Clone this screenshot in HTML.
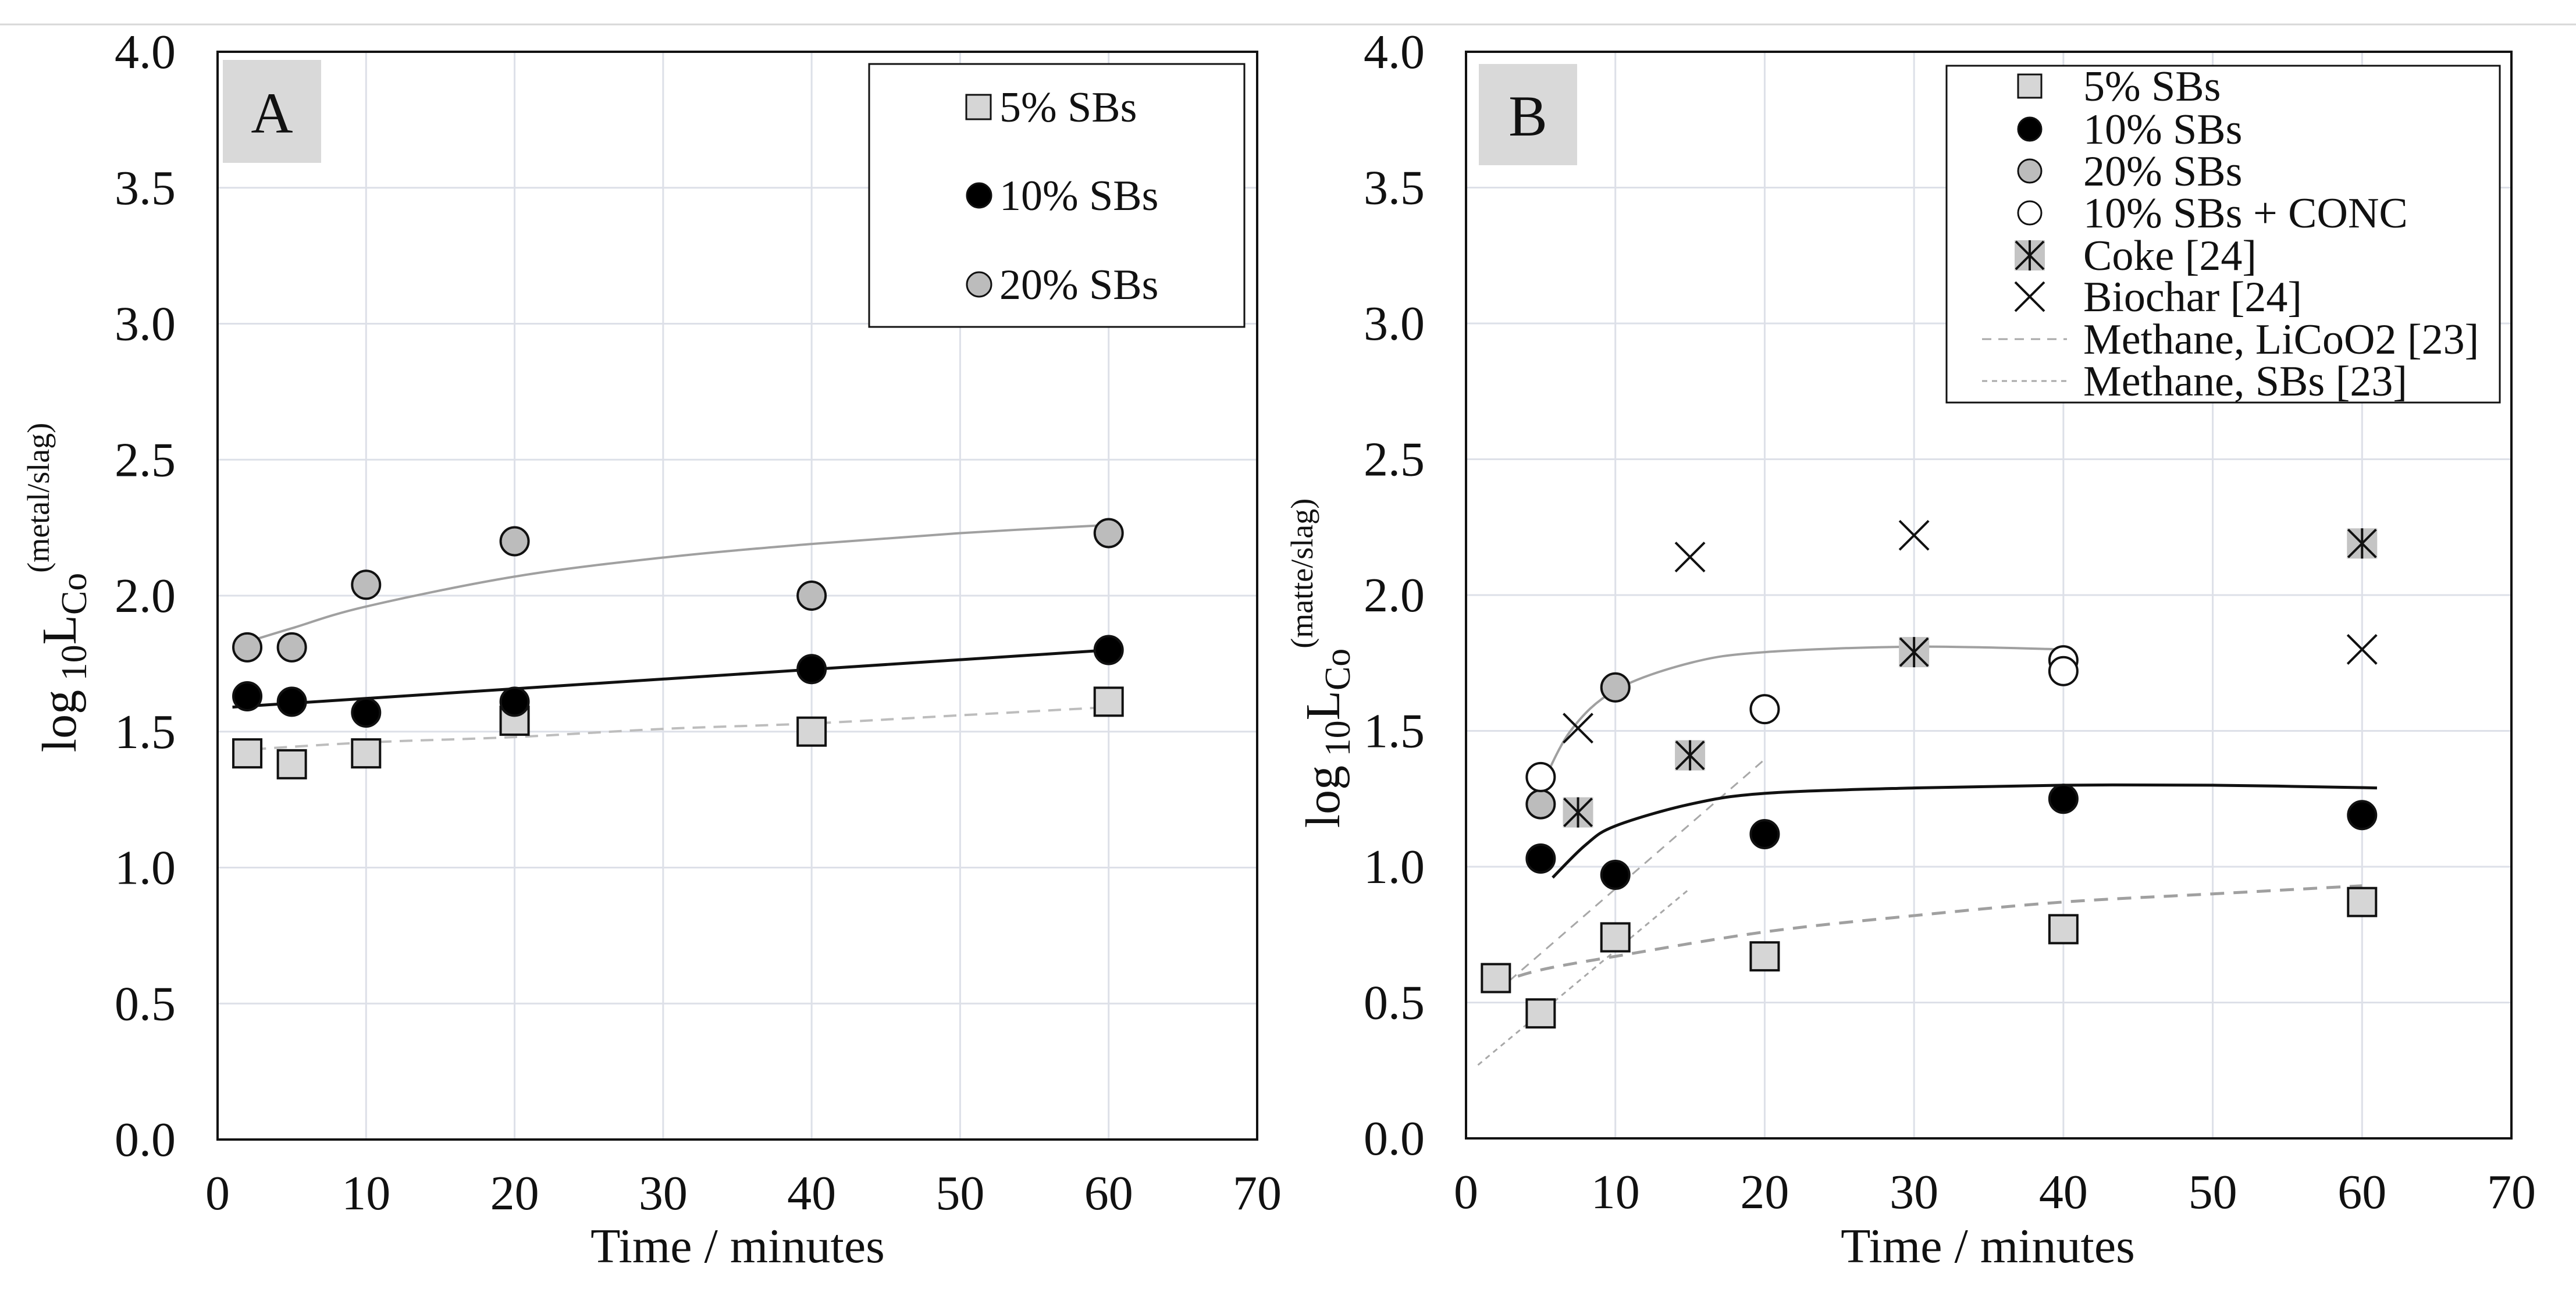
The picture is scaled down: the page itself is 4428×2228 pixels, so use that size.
<!DOCTYPE html>
<html><head><meta charset="utf-8"><style>
html,body{margin:0;padding:0;background:#fff;}
svg{display:block;font-family:"Liberation Serif",serif;}
</style></head><body>
<svg id="fig" width="4428" height="2228" viewBox="0 0 4428 2228" xmlns="http://www.w3.org/2000/svg">
<line x1="0" y1="42" x2="4428" y2="42" stroke="#d8d8d8" stroke-width="3"/>
<g id="panelA"></g>
<g id="panelB"></g>
</svg>
<script>
// ---------- Panel A data ----------
const xTicks = [0,10,20,30,40,50,60,70];
const yTicks = [0.0,0.5,1.0,1.5,2.0,2.5,3.0,3.5,4.0];
const yTickLabels = ["0.0","0.5","1.0","1.5","2.0","2.5","3.0","3.5","4.0"];

const a5x = [2,5,10,20,40,60];
const a5y = [1.42,1.38,1.42,1.54,1.50,1.61];
const a10x = [2,5,10,20,40,60];
const a10y = [1.63,1.61,1.57,1.61,1.73,1.80];
const a20x = [2,5,10,20,40,60];
const a20y = [1.81,1.81,2.04,2.20,2.00,2.23];
const a5TrendX = [1,10,20,30,40,50,60];
const a5TrendY = [1.43,1.46,1.48,1.51,1.53,1.56,1.59];
const a10TrendX = [1,60];
const a10TrendY = [1.59,1.80];
const a20TrendX = [2,5,10,20,30,40,50,60];
const a20TrendY = [1.83,1.88,1.96,2.07,2.14,2.19,2.23,2.26];

// ---------- Panel B data ----------
const b5x = [2,5,10,20,40,60];
const b5y = [0.59,0.46,0.74,0.67,0.77,0.87];
const b10x = [5,10,20,40,60];
const b10y = [1.03,0.97,1.12,1.25,1.19];
const b20x = [5,10];
const b20y = [1.23,1.66];
const bConcX = [5,20,40,40];
const bConcY = [1.33,1.58,1.76,1.72];
const bCokeX = [7.5,15,30,60];
const bCokeY = [1.20,1.41,1.79,2.19];
const bBioX = [7.5,15,30,60];
const bBioY = [1.51,2.14,2.22,1.80];
const b5TrendX = [2,5,10,20,30,40,50,60];
const b5TrendY = [0.57,0.62,0.67,0.76,0.82,0.87,0.90,0.93];
const b10TrendX = [5.8,8,10,15,20,30,40,50,61];
const b10TrendY = [0.96,1.08,1.15,1.23,1.27,1.29,1.30,1.30,1.29];
const b20TrendX = [5,7,10,15,20,30,40];
const b20TrendY = [1.29,1.50,1.65,1.75,1.79,1.81,1.80];
const methLiX = [2.9,20.1];
const methLiY = [0.58,1.40];
const methSbX = [0.8,15];
const methSbY = [0.27,0.92];

const NS = "http://www.w3.org/2000/svg";
function mk(tag, attrs, parent){
  const e = document.createElementNS(NS, tag);
  for (const k in attrs) e.setAttribute(k, attrs[k]);
  parent.appendChild(e);
  return e;
}
function makeScales(L,R,T,B){
  return {x: v => L + (v/70)*(R-L), y: v => B - (v/4)*(B-T)};
}
function smoothPath(xs, ys, s){
  const p = xs.map((x,i)=>[s.x(x), s.y(ys[i])]);
  if (p.length < 3) return "M"+p.map(q=>q.join(",")).join(" L");
  let d = "M"+p[0][0]+","+p[0][1];
  for (let i=0;i<p.length-1;i++){
    const p0=p[Math.max(0,i-1)], p1=p[i], p2=p[i+1], p3=p[Math.min(p.length-1,i+2)];
    const c1=[p1[0]+(p2[0]-p0[0])/6, p1[1]+(p2[1]-p0[1])/6];
    const c2=[p2[0]-(p3[0]-p1[0])/6, p2[1]-(p3[1]-p1[1])/6];
    d += " C"+c1+" "+c2+" "+p2;
  }
  return d;
}
function axes(g, L,R,T,B, tickRight){
  const s = makeScales(L,R,T,B);
  xTicks.forEach(t=>{
    if (t>0 && t<70){
      const l = mk("line",{x1:s.x(t),x2:s.x(t),y1:T,y2:B,stroke:"#dde0e8","stroke-width":3},g);
      
      
    }
    const tx = mk("text",{x:s.x(t),y:B+120,"font-size":84,"text-anchor":"middle",fill:"#111"},g);
    tx.textContent = t;
    
    
  });
  yTicks.forEach((t,i)=>{
    if (t>0 && t<4){
      const l = mk("line",{x1:L,x2:R,y1:s.y(t),y2:s.y(t),stroke:"#dde0e8","stroke-width":3},g);
      
      
    }
    const tx = mk("text",{x:tickRight,y:s.y(t)+28,"font-size":84,"text-anchor":"end",fill:"#111"},g);
    tx.textContent = yTickLabels[i];
    
    
  });
  const fr = mk("rect",{x:L,y:T,width:R-L,height:B-T,fill:"none",stroke:"#111","stroke-width":4},g);
  
  
  return s;
}
function line(g,xs,ys,s,style,name){
  const p = mk("path",Object.assign({d:smoothPath(xs,ys,s),fill:"none"},style),g);
  
  
}
function squares(g,xs,ys,s,name){
  xs.forEach((x,i)=>{
    const r = mk("rect",{x:s.x(x)-24,y:s.y(ys[i])-24,width:48,height:48,fill:"#d6d6d6",stroke:"#111","stroke-width":4},g);
    
    
  });
}
function circles(g,xs,ys,s,fill,name){
  xs.forEach((x,i)=>{
    const c = mk("circle",{cx:s.x(x),cy:s.y(ys[i]),r:24,fill:fill,stroke:"#111","stroke-width":4},g);
    
    
  });
}
function coke(g,cx,cy,name){
  const gg = mk("g",{},g);
  
  
  mk("rect",{x:cx-26,y:cy-26,width:52,height:52,fill:"#c4c4c4"},gg);
  mk("path",{d:`M${cx-24},${cy-24}L${cx+24},${cy+24}M${cx+24},${cy-24}L${cx-24},${cy+24}M${cx},${cy-26}L${cx},${cy+26}`,stroke:"#111","stroke-width":4},gg);
}
function cross(g,cx,cy,name){
  const p = mk("path",{d:`M${cx-25},${cy-25}L${cx+25},${cy+25}M${cx+25},${cy-25}L${cx-25},${cy+25}`,stroke:"#111","stroke-width":4},g);
  
  
}
function ylabel(g,x,y,sup){
  const t = mk("text",{transform:`translate(${x},${y}) rotate(-90)`,"font-size":84,"text-anchor":"middle",fill:"#111"},g);
  
  
  t.innerHTML = `log<tspan font-size="62" dy="18"> 10</tspan><tspan dy="-18">L</tspan><tspan font-size="62" dy="18">Co</tspan><tspan font-size="54" dy="-64">(${sup})</tspan>`;
}
function xlabel(g,x,y){
  const t = mk("text",{x:x,y:y,"font-size":84,"text-anchor":"middle",fill:"#111"},g);
  t.textContent = "Time / minutes";
  
  
}
function panelLabel(g,x,y,w,h,txt){
  const r = mk("rect",{x:x,y:y,width:w,height:h,fill:"#d9d9d9"},g);
  
  
  const t = mk("text",{x:x+w/2,y:y+h/2+36,"font-size":100,"text-anchor":"middle",fill:"#111"},g);
  t.textContent = txt;
  
  
}
function legText(g,x,y,txt){
  const t = mk("text",{x:x,y:y+25,"font-size":74,fill:"#111"},g);
  t.textContent = txt;
  
  
}

// ---------- Panel A ----------
(function(){
  const g = document.getElementById("panelA");
  const s = axes(g,374,2161,89,1959,302);
  panelLabel(g,383,103,169,177,"A");
  line(g,a5TrendX,a5TrendY,s,{stroke:"#bdbdbd","stroke-width":4,"stroke-dasharray":"22 14"},"trend-5pct");
  line(g,a10TrendX,a10TrendY,s,{stroke:"#111","stroke-width":5},"trend-10pct");
  line(g,a20TrendX,a20TrendY,s,{stroke:"#a0a0a0","stroke-width":4},"trend-20pct");
  squares(g,a5x,a5y,s,"point-5pct");
  circles(g,a10x,a10y,s,"#000","point-10pct");
  circles(g,a20x,a20y,s,"#bcbcbc","point-20pct");
  ylabel(g,130,1010,"metal/slag");
  xlabel(g,1268,2170);
  const lg = mk("g",{},g);
  
  
  mk("rect",{x:1494,y:110,width:645,height:452,fill:"#fff",stroke:"#111","stroke-width":3},lg);
  const ys=[184,336,489];
  const sq = mk("rect",{x:1661,y:163,width:42,height:42,fill:"#d6d6d6",stroke:"#111","stroke-width":3},lg);
   
  const c1 = mk("circle",{cx:1683,cy:336,r:21,fill:"#000",stroke:"#111","stroke-width":3},lg);
   
  const c2 = mk("circle",{cx:1683,cy:489,r:21,fill:"#bcbcbc",stroke:"#111","stroke-width":3},lg);
   
  ["5% SBs","10% SBs","20% SBs"].forEach((t,i)=>legText(lg,1718,ys[i],t));
})();

// ---------- Panel B ----------
(function(){
  const g = document.getElementById("panelB");
  const s = axes(g,2520,4317,89,1957,2449);
  panelLabel(g,2542,110,169,174,"B");
  line(g,methLiX,methLiY,s,{stroke:"#a8a8a8","stroke-width":3,"stroke-dasharray":"16 12"},"methane-licoo2-line");
  line(g,methSbX,methSbY,s,{stroke:"#a8a8a8","stroke-width":3,"stroke-dasharray":"9 8"},"methane-sbs-line");
  line(g,b5TrendX,b5TrendY,s,{stroke:"#a0a0a0","stroke-width":5,"stroke-dasharray":"24 16"},"trend-5pct");
  line(g,b10TrendX,b10TrendY,s,{stroke:"#111","stroke-width":5},"trend-10pct");
  line(g,b20TrendX,b20TrendY,s,{stroke:"#a0a0a0","stroke-width":4},"trend-20pct");
  squares(g,b5x,b5y,s,"point-5pct");
  circles(g,b10x,b10y,s,"#000","point-10pct");
  circles(g,b20x,b20y,s,"#bcbcbc","point-20pct");
  circles(g,bConcX,bConcY,s,"#fff","point-10pct-conc");
  bCokeX.forEach((x,i)=>coke(g,s.x(x),s.y(bCokeY[i]),"point-coke"));
  bBioX.forEach((x,i)=>cross(g,s.x(x),s.y(bBioY[i]),"point-biochar"));
  ylabel(g,2302,1140,"matte/slag");
  xlabel(g,3417,2170);
  const lg = mk("g",{},g);
  
  
  mk("rect",{x:3346,y:113,width:951,height:579,fill:"#fff",stroke:"#111","stroke-width":3},lg);
  const ys=[148,222,294,366,439,510,583,655];
  const labels=["5% SBs","10% SBs","20% SBs","10% SBs + CONC","Coke [24]","Biochar [24]","Methane, LiCoO2 [23]","Methane, SBs [23]"];
  const mx=3489;
  const q = mk("rect",{x:mx-20,y:ys[0]-20,width:40,height:40,fill:"#d6d6d6",stroke:"#111","stroke-width":3},lg);
   
  const a = mk("circle",{cx:mx,cy:ys[1],r:20,fill:"#000",stroke:"#111","stroke-width":3},lg);
   
  const b = mk("circle",{cx:mx,cy:ys[2],r:20,fill:"#bcbcbc",stroke:"#111","stroke-width":3},lg);
   
  const c = mk("circle",{cx:mx,cy:ys[3],r:20,fill:"#fff",stroke:"#111","stroke-width":3},lg);
   
  coke(lg,mx,ys[4],"legend-marker-coke");
  cross(lg,mx,ys[5],"legend-marker-biochar");
  const l1 = mk("line",{x1:3407,x2:3553,y1:ys[6],y2:ys[6],stroke:"#a8a8a8","stroke-width":3,"stroke-dasharray":"16 12"},lg);
   
  const l2 = mk("line",{x1:3407,x2:3553,y1:ys[7],y2:ys[7],stroke:"#a8a8a8","stroke-width":3,"stroke-dasharray":"9 8"},lg);
   
  labels.forEach((t,i)=>legText(lg,3581,ys[i],t));
})();
</script>
</body></html>
